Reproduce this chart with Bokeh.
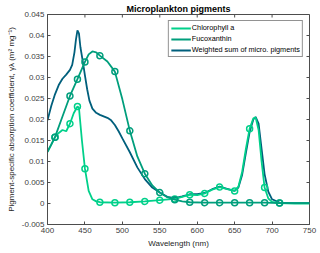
from bokeh.plotting import figure
from bokeh.models import (FixedTicker, CustomJSTickFormatter, Legend, LegendItem, Range1d)
from bokeh.embed import file_html
from bokeh.resources import INLINE

# ---------------- data ----------------
title = "Microplankton pigments"
x_label = "Wavelength (nm)"
y_label = "Pigment-specific absorption coefficient, \u03b3\u03bb (m\u00b2 mg\u207b\u00b9)"
series_names = ["Chlorophyll a", "Fucoxanthin", "Weighted sum of micro. pigments"]

chl_wl = [400, 405, 410, 415, 420, 425, 430, 435, 440, 442, 446, 450, 455, 460, 465, 470, 490, 510, 530,
          550, 570, 580, 590, 600, 610, 620, 630, 640, 650, 655, 660, 665, 670, 675, 678, 682, 686, 690,
          695, 700, 710, 730, 750]
chl = [0.0123, 0.0140, 0.0158, 0.0168, 0.0175, 0.0172, 0.0190, 0.0215, 0.0231, 0.0228, 0.0150, 0.0083,
       0.0030, 0.0010, 0.0005, 0.0003, 0.0002, 0.0003, 0.0005, 0.0008, 0.0011, 0.0016, 0.0021, 0.0020,
       0.0024, 0.0033, 0.0039, 0.0034, 0.0030, 0.0040, 0.0075, 0.0130, 0.0178, 0.0203, 0.0205, 0.0175,
       0.0100, 0.0038, 0.0012, 0.0004, 0.0001, 0.0, 0.0]

fuc_wl = [400, 405, 410, 420, 430, 440, 450, 455, 460, 465, 470, 480, 490, 500, 510, 520, 530, 540, 550,
          560, 570, 580, 590, 610, 630, 650, 670, 690, 710, 730, 750]
fuc = [0.0123, 0.0140, 0.0158, 0.0207, 0.0256, 0.0296, 0.0337, 0.0355, 0.0362, 0.0360, 0.0352, 0.0338,
       0.0314, 0.0248, 0.0173, 0.0112, 0.0071, 0.0043, 0.0026, 0.0015, 0.0009, 0.0005, 0.0003, 0.0002,
       0.0002, 0.0002, 0.0002, 0.0002, 0.0001, 0.0001, 0.0001]

wsum_wl = [400, 405, 410, 415, 420, 425, 430, 433, 436, 438, 440, 442, 444, 447, 450, 453, 456, 460, 465,
           470, 480, 485, 490, 495, 500, 510, 520, 530, 540, 550, 560, 570, 580, 590, 600, 610, 620, 630,
           640, 650, 655, 660, 665, 670, 675, 678, 682, 686, 690, 695, 700, 710, 730, 750]
wsum = [0.0198, 0.0232, 0.0260, 0.0282, 0.0297, 0.0307, 0.0318, 0.0330, 0.0360, 0.0390, 0.0412, 0.0405,
        0.0372, 0.0340, 0.0305, 0.0272, 0.0245, 0.0226, 0.0216, 0.0211, 0.0204, 0.0198, 0.0187, 0.0172,
        0.0155, 0.0122, 0.0086, 0.0058, 0.0038, 0.0026, 0.0016, 0.0013, 0.0017, 0.0022, 0.0022, 0.0025,
        0.0034, 0.0040, 0.0035, 0.0030, 0.0038, 0.0068, 0.0120, 0.0170, 0.0200, 0.0206, 0.0190, 0.0130,
        0.0070, 0.0028, 0.0010, 0.0002, 0.0001, 0.0001]

marker_wl = [410, 430, 440, 450, 470, 490, 510, 530, 550, 570, 590, 610, 630, 650, 670, 690, 710]

x_ticks = [400, 450, 500, 550, 600, 650, 700, 750]
y_ticks = [-0.005, 0, 0.005, 0.01, 0.015, 0.02, 0.025, 0.03, 0.035, 0.04, 0.045]

colors = ["#00d08a", "#009e7c", "#005f7c"]

# ---------------- figure ----------------
FONT = "Liberation Sans"
AX = "#4d4d4d"
X0, X1 = 400, 750
Y0, Y1 = -0.005, 0.045

p = figure(width=320, height=253, output_backend="svg", toolbar_location=None,
           x_range=Range1d(X0, X1), y_range=Range1d(Y0, Y1),
           min_border_left=47, min_border_right=11, min_border_top=14, min_border_bottom=29)
p.background_fill_color = "white"
p.border_fill_color = "white"
p.outline_line_color = AX
p.grid.visible = False

p.title.text = title
p.title.align = "center"
p.title.text_font = FONT
p.title.text_font_size = "9px"
p.title.text_font_style = "bold"
p.title.text_color = "#000000"
p.title.standoff = 2
p.title.offset = 0


def style_axis(ax):
    ax.axis_line_color = AX
    ax.major_tick_line_color = AX
    ax.major_tick_in = 3
    ax.major_tick_out = 0
    ax.minor_tick_line_color = None
    ax.major_label_text_font = FONT
    ax.major_label_text_font_size = "8px"
    ax.major_label_text_color = "#404040"
    ax.major_label_standoff = 3
    ax.axis_label_text_font = FONT
    ax.axis_label_text_font_size = "8px"
    ax.axis_label_text_font_style = "normal"
    ax.axis_label_text_color = "#262626"
    ax.axis_label_standoff = 3


fmt = CustomJSTickFormatter(code="return String(Math.round(tick*100000)/100000);")

p.xaxis.ticker = FixedTicker(ticks=x_ticks)
p.yaxis.ticker = FixedTicker(ticks=y_ticks)
p.yaxis.formatter = fmt
p.xaxis.axis_label = x_label
p.yaxis.axis_label = y_label
style_axis(p.xaxis[0])
style_axis(p.yaxis[0])

# inward ticks on the top and right edges of the box
tick_dx = (X1 - X0) * 3.0 / 262
tick_dy = (Y1 - Y0) * 3.0 / 209
p.segment(x0=x_ticks, y0=[Y1] * len(x_ticks), x1=x_ticks, y1=[Y1 - tick_dy] * len(x_ticks),
          line_color=AX, line_width=1)
p.segment(x0=[X1] * len(y_ticks), y0=y_ticks, x1=[X1 - tick_dx] * len(y_ticks), y1=y_ticks,
          line_color=AX, line_width=1)

# ---------------- glyphs ----------------
r_w = p.line(wsum_wl, wsum, line_color=colors[2], line_width=1.8)
r_c = p.line(chl_wl, chl, line_color=colors[0], line_width=1.8)
chl_m = [chl[chl_wl.index(w)] for w in marker_wl]
p.scatter(marker_wl, chl_m, marker="circle", size=6, line_color=colors[0], line_width=1.5,
          fill_alpha=0)
r_f = p.line(fuc_wl, fuc, line_color=colors[1], line_width=1.8)
fuc_m = [fuc[fuc_wl.index(w)] for w in marker_wl]
p.scatter(marker_wl, fuc_m, marker="circle", size=6, line_color=colors[1], line_width=1.5,
          fill_alpha=0)

legend = Legend(items=[LegendItem(label=series_names[0], renderers=[r_c]),
                       LegendItem(label=series_names[1], renderers=[r_f]),
                       LegendItem(label=series_names[2], renderers=[r_w])],
                location="top_right")
legend.label_text_font = FONT
legend.label_text_font_size = "7.3px"
legend.label_text_color = "#000000"
legend.label_height = 8
legend.label_standoff = 1
legend.glyph_width = 20
legend.glyph_height = 8
legend.spacing = 2
legend.padding = 2
legend.margin = 6
legend.border_line_color = "#262626"
legend.border_line_width = 1
legend.background_fill_alpha = 1
p.add_layout(legend)

open("out.html", "w").write(file_html(p, INLINE))
